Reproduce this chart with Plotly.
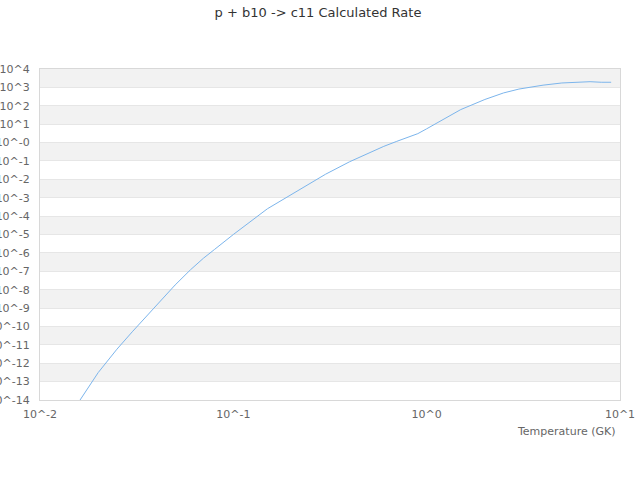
import plotly.graph_objects as go

temperature_gk = [0.01, 0.015, 0.02, 0.025, 0.03, 0.04, 0.05, 0.06, 0.07, 0.08, 0.09,
                  0.1, 0.15, 0.2, 0.25, 0.3, 0.4, 0.5, 0.6, 0.7, 0.8, 0.9,
                  1.0, 1.5, 2.0, 2.5, 3.0, 3.5, 4.0, 5.0, 6.0, 7.0, 8.0, 9.0]
rate = [2e-18, 3.2e-15, 3.1e-13, 5.8e-12, 5.1e-11, 1.5e-9, 1.8e-8, 1.2e-7, 5.1e-7, 1.55e-6, 4.2e-6,
        1.0e-5, 2.5e-4, 1.5e-3, 6.4e-3, 1.9e-2, 9.1e-2, 0.265, 0.62, 1.16, 1.94, 3.05,
        5.6, 62, 220, 500, 810, 1070, 1320, 1740, 1950, 2040, 1900, 1900]

x_tick_vals = [0.01, 0.1, 1, 10]
x_tick_text = ["10^-2", "10^-1", "10^0", "10^1"]
y_exponents = [4, 3, 2, 1, 0, -1, -2, -3, -4, -5, -6, -7, -8, -9, -10, -11, -12, -13, -14]
y_tick_vals = [10.0 ** e for e in y_exponents]
y_tick_text = ["10^4", "10^3", "10^2", "10^1", "10^-0"] + ["10^%d" % e for e in y_exponents[5:]]

title_text = "p + b10 -> c11 Calculated Rate"
x_title = "Temperature (GK)"

font_family = "DejaVu Sans, Verdana, sans-serif"

fig = go.Figure()
fig.add_trace(go.Scatter(
    x=temperature_gk, y=rate, mode="lines",
    line=dict(color="#7cb5ec", width=1),
    showlegend=False, hoverinfo="x+y",
))

# alternating bands between decades
shapes = []
for i in range(0, len(y_tick_vals) - 1, 2):
    shapes.append(dict(
        type="rect", xref="paper", yref="y", x0=0, x1=1,
        y0=y_tick_vals[i + 1], y1=y_tick_vals[i],
        fillcolor="#f2f2f2", line=dict(width=0), layer="below",
    ))

fig.update_layout(
    width=640, height=480,
    margin=dict(l=40, r=20, t=69, b=80, autoexpand=False),
    paper_bgcolor="white", plot_bgcolor="white",
    font=dict(family=font_family, size=11, color="#666666"),
    title=dict(text=title_text, x=318 / 640, xref="container", xanchor="center",
               y=1 - 12 / 480, yref="container", yanchor="middle",
               font=dict(size=13, color="#333333", family=font_family)),
    shapes=shapes,
    xaxis=dict(type="log", range=[-2, 1], tickvals=x_tick_vals, ticktext=x_tick_text,
               showgrid=False, showline=True, linecolor="#d8d8d8", linewidth=1, mirror=True,
               ticks="outside", ticklen=4, tickcolor="rgba(0,0,0,0)", automargin=False,
               tickfont=dict(size=11, color="#666666"), zeroline=False),
    yaxis=dict(type="log", range=[-14, 4], tickvals=y_tick_vals, ticktext=y_tick_text,
               showgrid=True, gridcolor="#e6e6e6", gridwidth=1,
               showline=True, linecolor="#d8d8d8", linewidth=1, mirror=True,
               ticks="outside", ticklen=7, tickcolor="rgba(0,0,0,0)", automargin=False,
               tickfont=dict(size=11, color="#666666"), zeroline=False),
    annotations=[dict(text=x_title, xref="paper", yref="paper",
                      x=(618 - 40) / 580, y=-31 / 331, xanchor="right", yanchor="middle",
                      showarrow=False, font=dict(size=11, color="#666666", family=font_family))],
)

# remove the browser's default 8px page margin so the chart starts at the window corner
fig.write_html("out.html", config={"displayModeBar": False},
               post_script="document.body.style.margin='0';")
